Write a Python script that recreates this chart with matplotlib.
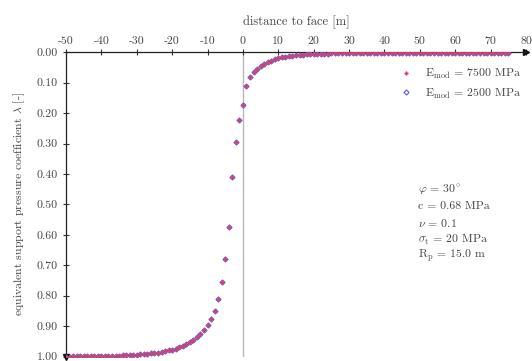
import numpy as np
import matplotlib
matplotlib.use("Agg")
import matplotlib.pyplot as plt

distance = list(range(-50, 76))

lam_7500 = [
    1.000, 1.000, 0.999, 0.999, 0.999, 0.999, 0.999, 0.998, 0.998, 0.998,   # -50..-41
    0.998, 0.998, 0.997, 0.997, 0.997, 0.997, 0.996, 0.996, 0.995, 0.995,   # -40..-31
    0.994, 0.993, 0.992, 0.991, 0.990, 0.989, 0.987, 0.985, 0.983, 0.980,   # -30..-21
    0.977, 0.974, 0.970, 0.965, 0.959, 0.953, 0.945, 0.936, 0.925, 0.912,   # -20..-11
    0.897, 0.877, 0.850, 0.812, 0.755, 0.680, 0.574, 0.411, 0.294, 0.224,   # -10..-1
    0.173, 0.111, 0.081, 0.066, 0.055, 0.045, 0.038, 0.032, 0.027, 0.023,   # 0..9
    0.020, 0.017, 0.015, 0.013, 0.011, 0.010, 0.009, 0.008, 0.007, 0.006,   # 10..19
    0.005, 0.005, 0.004, 0.004, 0.004, 0.003, 0.003, 0.003, 0.003, 0.002,   # 20..29
    0.002, 0.002, 0.002, 0.002, 0.002, 0.002, 0.001, 0.001, 0.001, 0.001,   # 30..39
    0.001, 0.001, 0.001, 0.001, 0.001, 0.001, 0.001, 0.001, 0.001, 0.001,   # 40..49
    0.001, 0.001, 0.001, 0.001, 0.001, 0.001, 0.001, 0.001, 0.001, 0.001,   # 50..59
    0.001, 0.001, 0.001, 0.001, 0.001, 0.001, 0.001, 0.001, 0.001, 0.001,   # 60..69
    0.001, 0.001, 0.001, 0.001, 0.001, 0.001,                               # 70..75
]
lam_2500 = list(lam_7500)

x_ticks = list(range(-50, 81, 10))
y_ticks = [0.0, 0.1, 0.2, 0.3, 0.4, 0.5, 0.6, 0.7, 0.8, 0.9, 1.0]
x_label = "distance to face [m]"
y_label = r"equivalent support pressure coefficient $\lambda$ [-]"
series_labels = [r"E$_{\rm mod}$ = 7500 MPa", r"E$_{\rm mod}$ = 2500 MPa"]
params = [r"$\varphi$ = 30$^{\circ}$", "c = 0.68 MPa", r"$\nu$ = 0.1",
          r"$\sigma_{\rm t}$ = 20 MPa", r"R$_{\rm p}$ = 15.0 m"]

plt.rcParams["font.family"] = ["cmr10", "DejaVu Serif"]
plt.rcParams["mathtext.fontset"] = "cm"
plt.rcParams["axes.unicode_minus"] = False

txt_color = "#444444"

fig = plt.figure(figsize=(5.32, 3.61), dpi=100)
ax = fig.add_axes([66 / 532, 1 - 356.5 / 361, (526 - 66) / 532, (356.5 - 52.3) / 361])

ax.axvline(0, color="#b8b8b8", lw=1.0, zorder=1)

ax.plot(distance, lam_2500, ls="none", marker="D", ms=2.6, mfc="none",
        mec="#5a5ae6", mew=0.8, label=series_labels[1], zorder=3)
ax.plot(distance, lam_7500, ls="none", marker="P", ms=2.6, color="#d84060",
        mec="#d84060", mew=0.3, label=series_labels[0], zorder=4)

ax.set_xlim(-50, 80)
ax.set_ylim(1.0, 0.0)

ax.xaxis.tick_top()
ax.xaxis.set_label_position("top")
ax.set_xticks(x_ticks)
ax.set_xticklabels([str(v) for v in x_ticks])
ax.set_yticks(y_ticks)
ax.set_yticklabels(["%.2f" % v for v in y_ticks])
ax.tick_params(axis="both", direction="inout", length=5, width=0.8,
               labelsize=8.5, colors="#333333", labelcolor=txt_color)
ax.tick_params(axis="x", pad=2)
ax.set_xlabel(x_label, fontsize=9, color=txt_color, labelpad=8)
ax.set_ylabel(y_label, fontsize=8.5, color=txt_color, labelpad=7)

for s in ["bottom", "right"]:
    ax.spines[s].set_visible(False)
for s in ["top", "left"]:
    ax.spines[s].set_linewidth(0.9)
    ax.spines[s].set_color("#222222")

ax.plot(1, 1, marker=">", ms=5, color="#111111", transform=ax.transAxes, clip_on=False)
ax.plot(0, 0, marker="v", ms=5, color="#111111", transform=ax.transAxes, clip_on=False)

h, l = ax.get_legend_handles_labels()
leg = ax.legend([h[1], h[0]], [l[1], l[0]], loc="upper left",
                bbox_to_anchor=(0.703, 0.986), frameon=False, fontsize=8.5,
                handlelength=1.0, handletextpad=1.1, labelspacing=0.45,
                markerscale=1.0)
for t in leg.get_texts():
    t.set_color(txt_color)

for i, p in enumerate(params):
    ax.text(0.765, 0.548 - i * 0.0545, p, transform=ax.transAxes, fontsize=8.5,
            color=txt_color, va="center", ha="left")

fig.savefig("out.png", dpi=100)
